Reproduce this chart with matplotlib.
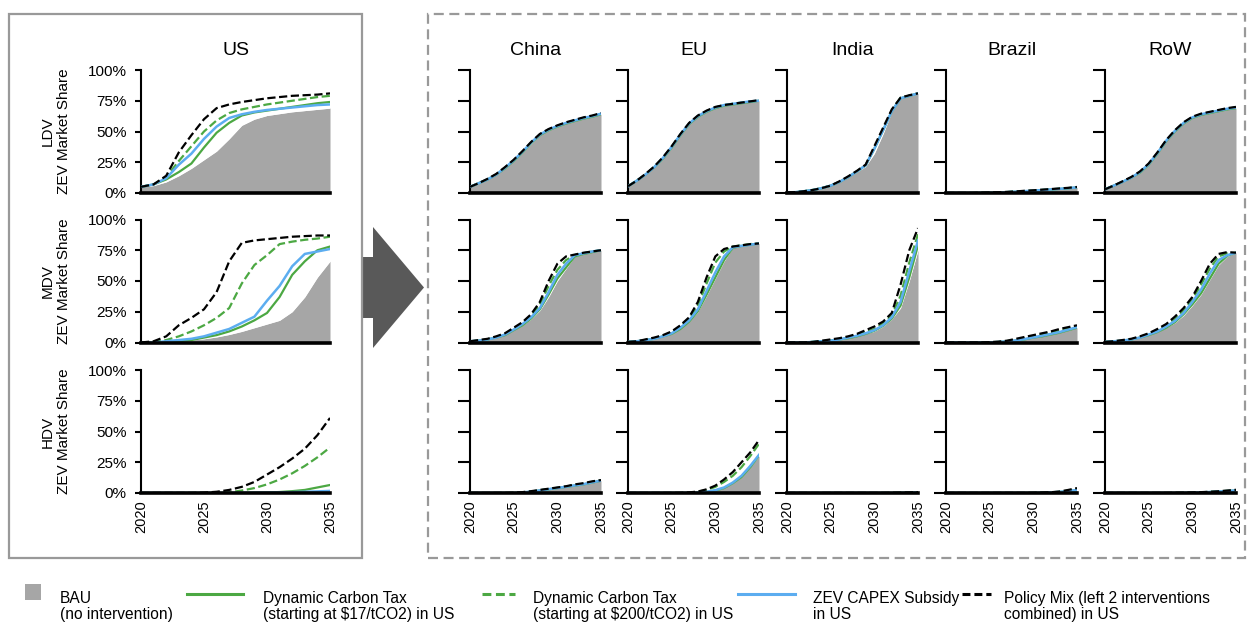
import matplotlib
matplotlib.use("Agg")
import matplotlib.pyplot as plt
import numpy as np
from matplotlib.patches import Rectangle, Polygon
from matplotlib.lines import Line2D
from matplotlib.ticker import PercentFormatter, FixedLocator

plt.rcParams['font.family'] = ['Liberation Sans', 'DejaVu Sans']

# ---------------- data (ZEV market share, %) ----------------
YEARS = list(range(2020, 2036))
REGIONS = ["US", "China", "EU", "India", "Brazil", "RoW"]
VEHICLES = ["LDV", "MDV", "HDV"]
YEAR_TICKS = [2020, 2025, 2030, 2035]
PCT_TICKS = [0, 0.25, 0.5, 0.75, 1.0]

# US
US_LDV_BAU   = [5, 6, 9, 14, 20, 27, 34, 44, 55, 60, 63, 64.5, 66, 67, 68, 69]
US_LDV_CT17  = [5, 7, 11, 17, 24, 37, 49, 57, 63, 65.5, 67, 68.5, 70, 71.5, 73, 74]
US_LDV_CT200 = [5, 7, 13, 26, 38, 50, 59, 65, 68, 70, 72, 73.5, 75, 76.5, 78, 79]
US_LDV_SUB   = [5, 7, 12, 23, 32, 44, 54, 61, 64, 66, 67.5, 68.5, 69.5, 70.5, 71.5, 72]
US_LDV_MIX   = [5, 7, 14, 33, 47, 60, 69, 72, 74, 75.5, 77, 78, 79, 79.5, 80, 81]

US_MDV_BAU   = [0, 0, 0.5, 1, 2, 3, 4.5, 6.5, 9, 12, 15, 18, 25, 37, 53, 66]
US_MDV_CT17  = [0, 0, 0.5, 1, 2, 4, 6, 9, 13, 18, 24, 37, 55, 66, 75, 78]
US_MDV_CT200 = [0, 0.5, 2, 5, 9, 14, 20, 28, 48, 63, 71, 80, 82, 83.5, 84.5, 86]
US_MDV_SUB   = [0, 0, 1, 2, 3, 5, 8, 11, 16, 21, 34, 46, 62, 72, 74, 76]
US_MDV_MIX   = [0, 1, 5, 14, 20, 27, 41, 66, 81, 83, 84, 85, 86, 86.5, 87, 87]

US_HDV_BAU   = [0, 0, 0, 0, 0, 0, 0, 0, 0, 0, 0.2, 0.3, 0.5, 0.7, 1, 1.2]
US_HDV_CT17  = [0, 0, 0, 0, 0, 0, 0, 0, 0, 0.2, 0.4, 0.8, 1.5, 2.5, 4.5, 6.5]
US_HDV_CT200 = [0, 0, 0, 0, 0, 0, 0.2, 0.5, 2, 4, 7, 11, 16, 22, 29, 37]
US_HDV_SUB   = [0, 0, 0, 0, 0, 0, 0, 0, 0.1, 0.2, 0.3, 0.5, 0.7, 1, 1.3, 1.7]
US_HDV_MIX   = [0, 0, 0, 0, 0, 0.3, 1, 2.5, 5, 9, 15, 21, 28, 36, 47, 61]

# China
CN_LDV_BAU   = [5, 8, 11, 15, 20, 26, 33, 40, 47, 51, 54, 56.5, 58.5, 60.5, 62, 64]
CN_LDV_CT17  = [5, 8, 11, 15, 20, 26, 33, 40.5, 47, 51, 54, 56.5, 58.5, 60.5, 62, 64]
CN_LDV_CT200 = [5, 8, 11, 15, 20.5, 26.5, 33.5, 41, 47.5, 51.5, 54.5, 57, 59, 61, 62.5, 64.5]
CN_LDV_SUB   = [5, 8, 11, 15, 20.5, 26.5, 33.5, 41, 47.5, 51.5, 54.5, 57, 59, 61, 62.5, 64.5]
CN_LDV_MIX   = [5, 8, 11.5, 15.5, 21, 27, 34, 41.5, 48, 52, 55, 57.5, 59.5, 61.5, 63, 65]

CN_MDV_BAU   = [1, 1.5, 2.5, 4, 6, 10, 14, 19, 26, 37, 50, 60, 70, 72, 73.5, 75]
CN_MDV_CT17  = [1, 1.5, 2.5, 4, 6, 10, 14, 19.5, 27, 39, 52, 61, 70, 72, 73.5, 75]
CN_MDV_CT200 = [1, 1.5, 2.5, 4.5, 7, 11, 15.5, 21.5, 31, 46, 59, 67, 71, 72.5, 74, 75]
CN_MDV_SUB   = [1, 1.5, 2.5, 4, 6.5, 10.5, 15, 20.5, 28, 41, 55, 64, 71, 72.5, 74, 75]
CN_MDV_MIX   = [1, 2, 3, 5, 7.5, 12, 16.5, 23, 33, 50, 64, 70, 71.5, 73, 74, 75]

CN_HDV_BAU   = [0, 0, 0, 0, 0, 0, 0.5, 1, 2, 3, 4, 5, 6, 7, 8.5, 10]
CN_HDV_CT17  = [0, 0, 0, 0, 0, 0, 0.5, 1, 2, 3, 4, 5, 6, 7, 8.5, 10]
CN_HDV_CT200 = [0, 0, 0, 0, 0, 0.1, 0.6, 1.2, 2.2, 3.2, 4.2, 5.2, 6.5, 7.5, 9, 10.3]
CN_HDV_SUB   = [0, 0, 0, 0, 0, 0, 0.5, 1.1, 2.1, 3.1, 4.1, 5.1, 6.2, 7.2, 8.7, 10.1]
CN_HDV_MIX   = [0, 0, 0, 0, 0, 0.2, 0.7, 1.5, 2.5, 3.5, 4.5, 5.5, 7, 8, 9.5, 10.5]

# EU
EU_LDV_BAU   = [5.5, 10, 15, 21, 28, 37, 47, 56, 62, 66, 69, 71, 72, 73, 74, 75]
EU_LDV_CT17  = [5.5, 10, 15, 21, 28, 37, 47, 56, 62, 66, 69, 71, 72, 73, 74, 75]
EU_LDV_CT200 = [5.5, 10, 15, 21, 28.5, 37.5, 47.5, 56.5, 62.5, 66.5, 69.5, 71.5, 72.5, 73.5, 74.5, 75]
EU_LDV_SUB   = [5.5, 10, 15, 21, 28.5, 37.5, 47.5, 56.5, 62.5, 66.5, 69.5, 71.5, 72.5, 73.5, 74.5, 75]
EU_LDV_MIX   = [5.5, 10, 15.5, 21.5, 29, 38, 48, 57, 63, 67, 70, 71.5, 72.5, 73.5, 74.5, 75.5]

EU_MDV_BAU   = [0.5, 1, 2, 3, 5, 7, 11, 17, 25, 38, 52, 66, 77, 78.5, 79.5, 80.5]
EU_MDV_CT17  = [0.5, 1, 2, 3, 5, 7, 11, 17, 25.5, 39, 53, 67, 77, 78.5, 79.5, 80.5]
EU_MDV_CT200 = [0.5, 1, 2, 3.5, 5.5, 8, 13, 19, 30, 48, 65, 74, 78, 79, 80, 80.5]
EU_MDV_SUB   = [0.5, 1, 2, 3, 5, 7.5, 12, 18, 27, 42, 57, 70, 77.5, 78.5, 79.5, 80.5]
EU_MDV_MIX   = [0.5, 1, 2.5, 4, 6, 9, 14, 20.5, 33, 53, 70, 76, 78, 79, 80, 80.5]

EU_HDV_BAU   = [0, 0, 0, 0, 0, 0, 0, 0, 0.3, 0.8, 2, 4, 8, 13, 21, 30]
EU_HDV_CT17  = [0, 0, 0, 0, 0, 0, 0, 0, 0.3, 0.8, 2, 4, 8, 13, 21, 30.5]
EU_HDV_CT200 = [0, 0, 0, 0, 0, 0, 0, 0.3, 1, 2.5, 5, 9, 14, 21, 30, 40]
EU_HDV_SUB   = [0, 0, 0, 0, 0, 0, 0, 0.1, 0.4, 1, 2.3, 4.5, 8.5, 14, 22, 31]
EU_HDV_MIX   = [0, 0, 0, 0, 0, 0, 0.1, 0.5, 1.2, 3, 6, 11, 17, 25, 33, 43]

# India
IN_LDV_BAU   = [0.5, 0.7, 1.5, 2.5, 4, 6, 9, 13, 17, 21.5, 32, 48, 66, 77, 79, 81]
IN_LDV_CT17  = [0.5, 0.7, 1.5, 2.5, 4, 6, 9, 13, 17.5, 22.5, 36, 51, 66.5, 77, 79, 81]
IN_LDV_CT200 = [0.5, 0.7, 1.5, 2.5, 4, 6, 9, 13, 17.5, 22.5, 36.5, 52, 67, 77.5, 79, 81]
IN_LDV_SUB   = [0.5, 0.7, 1.5, 2.5, 4, 6, 9, 13, 17.5, 22.5, 36, 51, 66.5, 77, 79, 81]
IN_LDV_MIX   = [0.5, 0.7, 1.5, 2.5, 4, 6, 9.5, 13.5, 18, 23, 38, 53, 68, 77.5, 79.5, 81]

IN_MDV_BAU   = [0, 0, 0, 0.5, 1, 1.5, 2.5, 3.5, 5, 7, 9, 13, 19, 28, 50, 75]
IN_MDV_CT17  = [0, 0, 0, 0.5, 1, 1.5, 2.5, 3.5, 5, 7, 9.5, 13.5, 19.5, 30, 53, 79]
IN_MDV_CT200 = [0, 0, 0, 0.5, 1, 2, 3, 4.5, 6, 8.5, 11, 15.5, 22, 38, 65, 88]
IN_MDV_SUB   = [0, 0, 0, 0.5, 1, 1.5, 2.5, 4, 5.5, 7.5, 10, 14, 20.5, 33, 58, 83]
IN_MDV_MIX   = [0, 0, 0, 0.5, 1.5, 2.5, 3.5, 5, 7, 10, 13, 17, 24, 47, 75, 93]

IN_HDV_BAU   = [0, 0, 0, 0, 0, 0, 0, 0, 0, 0, 0, 0, 0, 0, 0.2, 0.4]
IN_HDV_CT17  = [0, 0, 0, 0, 0, 0, 0, 0, 0, 0, 0, 0, 0, 0.1, 0.3, 0.5]
IN_HDV_CT200 = [0, 0, 0, 0, 0, 0, 0, 0, 0, 0, 0, 0, 0.1, 0.2, 0.4, 0.6]
IN_HDV_SUB   = [0, 0, 0, 0, 0, 0, 0, 0, 0, 0, 0, 0, 0, 0.1, 0.3, 0.5]
IN_HDV_MIX   = [0, 0, 0, 0, 0, 0, 0, 0, 0, 0, 0, 0, 0.1, 0.2, 0.4, 0.7]

# Brazil
BR_LDV_BAU   = [0, 0, 0, 0, 0.1, 0.2, 0.4, 0.7, 1, 1.4, 1.8, 2.3, 2.8, 3.3, 3.8, 4.5]
BR_LDV_CT17  = [0, 0, 0, 0, 0.1, 0.2, 0.4, 0.7, 1, 1.4, 1.8, 2.3, 2.8, 3.3, 3.8, 4.5]
BR_LDV_CT200 = [0, 0, 0, 0, 0.1, 0.3, 0.5, 0.8, 1.2, 1.6, 2, 2.5, 3, 3.5, 4, 4.7]
BR_LDV_SUB   = [0, 0, 0, 0, 0.1, 0.2, 0.4, 0.7, 1.1, 1.5, 1.9, 2.4, 2.9, 3.4, 3.9, 4.6]
BR_LDV_MIX   = [0, 0, 0, 0, 0.2, 0.4, 0.6, 0.9, 1.3, 1.8, 2.2, 2.7, 3.2, 3.7, 4.2, 4.9]

BR_MDV_BAU   = [0, 0, 0, 0, 0, 0, 0.3, 0.8, 1.5, 2.5, 4, 5, 6.5, 8, 10, 12]
BR_MDV_CT17  = [0, 0, 0, 0, 0, 0, 0.3, 0.8, 1.5, 2.5, 4, 5, 6.5, 8, 10, 12]
BR_MDV_CT200 = [0, 0, 0, 0, 0, 0.2, 0.5, 1.2, 2.2, 3.5, 5, 6.5, 8, 9.5, 11.5, 13]
BR_MDV_SUB   = [0, 0, 0, 0, 0, 0.1, 0.4, 1, 1.7, 2.8, 4.2, 5.5, 7, 8.5, 10.5, 12.5]
BR_MDV_MIX   = [0, 0, 0, 0, 0, 0.3, 0.7, 1.5, 3, 4.5, 6, 7.5, 9, 11, 12.5, 14]

BR_HDV_BAU   = [0, 0, 0, 0, 0, 0, 0, 0, 0, 0, 0, 0.2, 0.4, 0.8, 1.3, 2]
BR_HDV_CT17  = [0, 0, 0, 0, 0, 0, 0, 0, 0, 0, 0, 0.2, 0.4, 0.8, 1.4, 2.2]
BR_HDV_CT200 = [0, 0, 0, 0, 0, 0, 0, 0, 0, 0, 0.1, 0.3, 0.5, 1, 2, 3.3]
BR_HDV_SUB   = [0, 0, 0, 0, 0, 0, 0, 0, 0, 0, 0, 0.2, 0.5, 0.9, 1.6, 2.5]
BR_HDV_MIX   = [0, 0, 0, 0, 0, 0, 0, 0, 0, 0, 0.1, 0.3, 0.6, 1.2, 2.5, 4]

# Rest of World
RW_LDV_BAU   = [3, 6, 9, 12.5, 16.5, 23, 32, 42, 50, 56.5, 61, 63.5, 65, 66.5, 68, 69]
RW_LDV_CT17  = [3, 6, 9, 12.5, 16.5, 23, 32, 42, 50, 56.5, 61, 63.5, 65, 66.5, 68, 69]
RW_LDV_CT200 = [3, 6, 9, 12.5, 17, 23.5, 32.5, 42.5, 50.5, 57, 61.5, 64, 65.5, 67, 68.5, 69.5]
RW_LDV_SUB   = [3, 6, 9, 12.5, 17, 23.5, 32.5, 42.5, 50.5, 57, 61.5, 64, 65.5, 67, 68.5, 69.5]
RW_LDV_MIX   = [3, 6, 9.5, 13, 17.5, 24, 33, 43, 51, 57.5, 62, 64.5, 66, 67.5, 69, 70]

RW_MDV_BAU   = [0.5, 1, 1.5, 2.5, 4, 6, 8.5, 12, 16, 22, 30, 39, 51, 63, 70, 73]
RW_MDV_CT17  = [0.5, 1, 1.5, 2.5, 4, 6, 8.5, 12, 16.5, 23, 31, 40, 52, 64, 70.5, 73]
RW_MDV_CT200 = [0.5, 1, 1.5, 2.5, 4.5, 7, 10, 14, 19, 26, 35, 47, 60, 70, 72.5, 73]
RW_MDV_SUB   = [0.5, 1, 1.5, 2.5, 4, 6.5, 9, 13, 17.5, 24, 33, 43, 56, 67, 71, 73]
RW_MDV_MIX   = [0.5, 1, 2, 3, 5, 7.5, 11, 15, 21, 28, 37, 50, 64, 72, 73.5, 73]

RW_HDV_BAU   = [0, 0, 0, 0, 0, 0, 0, 0, 0, 0, 0.3, 0.5, 0.8, 1.1, 1.5, 2]
RW_HDV_CT17  = [0, 0, 0, 0, 0, 0, 0, 0, 0, 0, 0.3, 0.5, 0.8, 1.1, 1.5, 2]
RW_HDV_CT200 = [0, 0, 0, 0, 0, 0, 0, 0, 0.1, 0.2, 0.4, 0.6, 0.9, 1.3, 1.8, 2.4]
RW_HDV_SUB   = [0, 0, 0, 0, 0, 0, 0, 0, 0, 0.1, 0.3, 0.5, 0.8, 1.2, 1.6, 2.1]
RW_HDV_MIX   = [0, 0, 0, 0, 0, 0, 0, 0, 0.1, 0.2, 0.4, 0.7, 1, 1.4, 2, 2.6]

LEGEND_LABELS = ["BAU\n(no intervention)",
                 "Dynamic Carbon Tax\n(starting at $17/tCO2) in US",
                 "Dynamic Carbon Tax\n(starting at $200/tCO2) in US",
                 "ZEV CAPEX Subsidy\nin US",
                 "Policy Mix (left 2 interventions\ncombined) in US"]

# table built from the named lists
PANELS = {
    ("US", "LDV"): (US_LDV_BAU, US_LDV_CT17, US_LDV_CT200, US_LDV_SUB, US_LDV_MIX),
    ("US", "MDV"): (US_MDV_BAU, US_MDV_CT17, US_MDV_CT200, US_MDV_SUB, US_MDV_MIX),
    ("US", "HDV"): (US_HDV_BAU, US_HDV_CT17, US_HDV_CT200, US_HDV_SUB, US_HDV_MIX),
    ("China", "LDV"): (CN_LDV_BAU, CN_LDV_CT17, CN_LDV_CT200, CN_LDV_SUB, CN_LDV_MIX),
    ("China", "MDV"): (CN_MDV_BAU, CN_MDV_CT17, CN_MDV_CT200, CN_MDV_SUB, CN_MDV_MIX),
    ("China", "HDV"): (CN_HDV_BAU, CN_HDV_CT17, CN_HDV_CT200, CN_HDV_SUB, CN_HDV_MIX),
    ("EU", "LDV"): (EU_LDV_BAU, EU_LDV_CT17, EU_LDV_CT200, EU_LDV_SUB, EU_LDV_MIX),
    ("EU", "MDV"): (EU_MDV_BAU, EU_MDV_CT17, EU_MDV_CT200, EU_MDV_SUB, EU_MDV_MIX),
    ("EU", "HDV"): (EU_HDV_BAU, EU_HDV_CT17, EU_HDV_CT200, EU_HDV_SUB, EU_HDV_MIX),
    ("India", "LDV"): (IN_LDV_BAU, IN_LDV_CT17, IN_LDV_CT200, IN_LDV_SUB, IN_LDV_MIX),
    ("India", "MDV"): (IN_MDV_BAU, IN_MDV_CT17, IN_MDV_CT200, IN_MDV_SUB, IN_MDV_MIX),
    ("India", "HDV"): (IN_HDV_BAU, IN_HDV_CT17, IN_HDV_CT200, IN_HDV_SUB, IN_HDV_MIX),
    ("Brazil", "LDV"): (BR_LDV_BAU, BR_LDV_CT17, BR_LDV_CT200, BR_LDV_SUB, BR_LDV_MIX),
    ("Brazil", "MDV"): (BR_MDV_BAU, BR_MDV_CT17, BR_MDV_CT200, BR_MDV_SUB, BR_MDV_MIX),
    ("Brazil", "HDV"): (BR_HDV_BAU, BR_HDV_CT17, BR_HDV_CT200, BR_HDV_SUB, BR_HDV_MIX),
    ("RoW", "LDV"): (RW_LDV_BAU, RW_LDV_CT17, RW_LDV_CT200, RW_LDV_SUB, RW_LDV_MIX),
    ("RoW", "MDV"): (RW_MDV_BAU, RW_MDV_CT17, RW_MDV_CT200, RW_MDV_SUB, RW_MDV_MIX),
    ("RoW", "HDV"): (RW_HDV_BAU, RW_HDV_CT17, RW_HDV_CT200, RW_HDV_SUB, RW_HDV_MIX),
}

# ---------------- styling ----------------
GRAY = "#A6A6A6"
GREEN = "#4CA843"
BLUE = "#5CADF0"
BOXGRAY = "#999999"
ARROW = "#595959"

W, H = 1249, 623
fig = plt.figure(figsize=(W / 100, H / 100), dpi=100)


def fx(px):
    return px / W


def fy(py):
    return 1 - py / H


# frames (drawn behind axes)
fig.add_artist(Polygon([(fx(362), fy(257)), (fx(373), fy(257)), (fx(373), fy(227)),
                        (fx(424), fy(287.5)), (fx(373), fy(348)), (fx(373), fy(318)),
                        (fx(362), fy(318))], closed=True, transform=fig.transFigure,
                       facecolor=ARROW, edgecolor="none", zorder=-2))
fig.add_artist(Rectangle((fx(8.5), fy(558)), fx(362) - fx(8.5), fy(13.5) - fy(558),
                         transform=fig.transFigure, facecolor="none",
                         edgecolor=BOXGRAY, lw=1.6, zorder=-1))
fig.add_artist(Rectangle((fx(428), fy(558)), fx(1245) - fx(428), fy(13.5) - fy(558),
                         transform=fig.transFigure, facecolor="none",
                         edgecolor=BOXGRAY, lw=1.6, ls=(0, (4.5, 2.5)), zorder=-1))

COL_LEFT = {"US": 141, "China": 470, "EU": 628, "India": 787, "Brazil": 946, "RoW": 1105}
COL_W = {"US": 189}
ROW_TOP = {"LDV": 70, "MDV": 219.5, "HDV": 370}
ROW_H = 123

for region in REGIONS:
    for vi, veh in enumerate(VEHICLES):
        left = COL_LEFT[region]
        width = COL_W.get(region, 131)
        top = ROW_TOP[veh]
        ax = fig.add_axes([fx(left), fy(top + ROW_H), width / W, ROW_H / H])
        bau, ct17, ct200, sub, mix = [np.array(s) / 100 for s in PANELS[(region, veh)]]
        ax.fill_between(YEARS, 0, bau, color=GRAY, lw=0, zorder=1)
        ax.plot(YEARS, bau, color="white", lw=0.8, zorder=1.5)
        lw = 1.6
        ax.plot(YEARS, ct17, color=GREEN, lw=lw, zorder=2)
        ax.plot(YEARS, ct200, color=GREEN, lw=lw, ls="--", zorder=3)
        ax.plot(YEARS, sub, color=BLUE, lw=lw + 0.2, zorder=4)
        ax.plot(YEARS, mix, color="black", lw=lw, ls="--", zorder=5)

        ax.set_xlim(2020, 2035)
        ax.set_ylim(0, 1)
        for s in ("top", "right"):
            ax.spines[s].set_visible(False)
        ax.spines["left"].set_linewidth(1.5)
        ax.spines["bottom"].set_linewidth(2.6)
        ax.spines["bottom"].set_zorder(6)
        ax.yaxis.set_major_locator(FixedLocator(PCT_TICKS))
        ax.xaxis.set_major_locator(FixedLocator(YEAR_TICKS))
        ax.tick_params(axis="x", length=0, pad=5, labelsize=10.5, labelrotation=90)
        if region == "US":
            ax.yaxis.set_major_formatter(PercentFormatter(1.0, decimals=0))
            ax.tick_params(axis="y", length=4, width=1.5, pad=6.5, labelsize=11)
            ax.set_ylabel(f"{veh}\nZEV Market Share", fontsize=11, linespacing=1.15)
            ax.yaxis.set_label_coords(-0.372, 0.5)
        else:
            ax.tick_params(axis="y", length=8.5, width=1.5, labelleft=False)
        if veh != "HDV":
            ax.tick_params(axis="x", labelbottom=False)
        if veh == "LDV":
            ax.set_title(region, fontsize=14, pad=11)
        ax.patch.set_alpha(0)

# ---------------- legend ----------------
LEG_Y = fy(594)
TEXT_Y = fy(606.5)
fig.add_artist(Rectangle((fx(25), fy(600)), fx(41) - fx(25), fy(584) - fy(600),
                         transform=fig.transFigure, facecolor=GRAY, edgecolor="none"))
handles = [
    (187, 243, dict(color=GREEN, lw=2.2, ls="-")),
    (482, 515, dict(color=GREEN, lw=2.2, ls=(0, (2.9, 1.5)))),
    (738, 795, dict(color=BLUE, lw=2.2, ls="-")),
    (962, 991, dict(color="black", lw=2.2, ls=(0, (2.6, 1.3)))),
]
for x0, x1, kw in handles:
    fig.add_artist(Line2D([fx(x0), fx(x1)], [LEG_Y, LEG_Y], transform=fig.transFigure, **kw))
for xt, lab in zip([60, 263, 533, 813, 1004], LEGEND_LABELS):
    fig.text(fx(xt), TEXT_Y, lab, fontsize=11.2, va="center", ha="left", linespacing=1.05)

fig.savefig("out.png", dpi=100)
